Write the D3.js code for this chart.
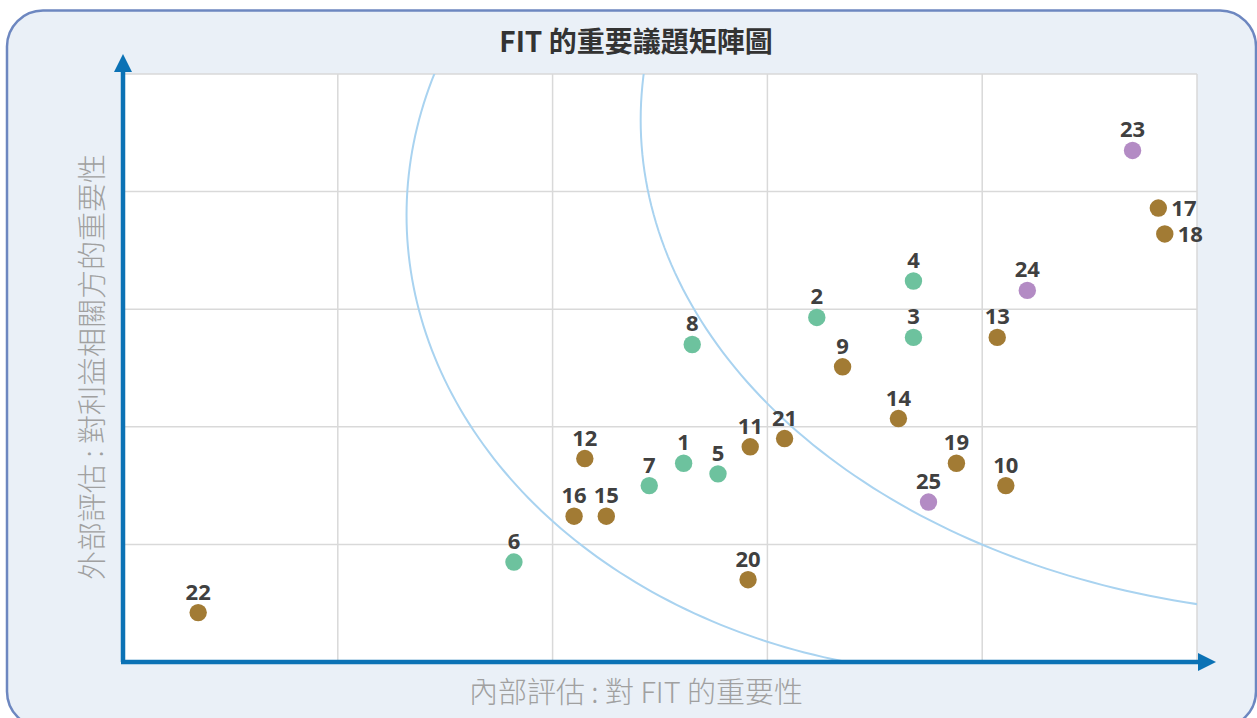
<!DOCTYPE html>
<html>
<head>
<meta charset="utf-8">
<script src="https://cdn.jsdelivr.net/npm/d3@7"></script>
<style>
  html, body { margin: 0; padding: 0; background: #ffffff; }
  svg { display: block; }
  .title { font-family: "Noto Sans CJK TC", "Noto Sans", sans-serif; font-weight: 700; }
  .axis-title { font-family: "Noto Sans CJK TC", "Noto Sans", sans-serif; font-weight: 300; }
  .point-label { font-family: "Noto Sans", "Noto Sans CJK TC", sans-serif; font-weight: 700; }
</style>
</head>
<body>
<div id="chart"></div>
<script>
// issue numbers and their scores (internal / external)
var issueIds = [1, 2, 3, 4, 5, 6, 7, 8, 9, 10, 11, 12, 13, 14, 15, 16, 17, 18, 19, 20, 21, 22, 23, 24, 25];
var internalScore = [2.61, 3.23, 3.68, 3.68, 2.77, 1.82, 2.45, 2.65, 3.35, 4.11, 2.92, 2.15, 4.07, 3.61, 2.25, 2.10, 4.82, 4.85, 3.88, 2.91, 3.08, 0.35, 4.70, 4.21, 3.75];
var externalScore = [1.69, 2.93, 2.76, 3.24, 1.60, 0.85, 1.50, 2.70, 2.51, 1.50, 1.83, 1.73, 2.76, 2.07, 1.24, 1.24, 3.86, 3.64, 1.69, 0.70, 1.90, 0.42, 4.35, 3.16, 1.36];
var issueGroup = ['a', 'a', 'a', 'a', 'a', 'a', 'a', 'a',
                  'b', 'b', 'b', 'b', 'b', 'b', 'b', 'b', 'b', 'b', 'b', 'b', 'b', 'b',
                  'c', 'c', 'c'];
var rightLabels = [17, 18];

var gridTicks = [0, 1, 2, 3, 4, 5];

// the two boundary arcs, left halves of ellipses in score units
var arcCenterX = [4.0, 5.68];
var arcCenterY = [3.8, 4.61];
var arcRadiusX = [2.68, 3.27];
var arcRadiusY = [3.91, 4.21];

var groupColors = { a: '#6dc29e', b: '#a27b34', c: '#b38bc4' };

var width = 1257, height = 718;
var margin = { top: 74, right: 60, bottom: 56, left: 123 };

var svg = d3.select('#chart').append('svg')
  .attr('width', width)
  .attr('height', height);

// frame
svg.append('rect')
  .attr('x', 7).attr('y', 10.5)
  .attr('width', 1249).attr('height', 717)
  .attr('rx', 36).attr('ry', 36)
  .attr('fill', '#eaf0f7')
  .attr('stroke', '#6d87c0')
  .attr('stroke-width', 2.5);

var x = d3.scaleLinear().domain([0, 5]).range([margin.left, width - margin.right]);
var y = d3.scaleLinear().domain([0, 5]).range([height - margin.bottom, margin.top]);

svg.append('rect')
  .attr('x', x(0)).attr('y', y(5))
  .attr('width', x(5) - x(0)).attr('height', y(0) - y(5))
  .attr('fill', '#ffffff');

// grid
var grid = svg.append('g').attr('stroke', '#d9d9d9').attr('stroke-width', 1.5);
grid.selectAll('.vgrid').data(gridTicks.slice(1)).enter().append('line')
  .attr('x1', function(d) { return x(d); })
  .attr('x2', function(d) { return x(d); })
  .attr('y1', y(0)).attr('y2', y(5));
grid.selectAll('.hgrid').data(gridTicks.slice(1)).enter().append('line')
  .attr('x1', x(0)).attr('x2', x(5))
  .attr('y1', function(d) { return y(d); })
  .attr('y2', function(d) { return y(d); });

// arcs
svg.append('clipPath').attr('id', 'plot-clip')
  .append('rect')
  .attr('x', x(0)).attr('y', y(5))
  .attr('width', x(5) - x(0)).attr('height', y(0) - y(5));

var arcLine = d3.line()
  .x(function(d) { return x(d[0]); })
  .y(function(d) { return y(d[1]); });

var arcs = svg.append('g').attr('clip-path', 'url(#plot-clip)');
arcCenterX.forEach(function(cx, i) {
  var pts = d3.range(90, 271).map(function(k) {
    var t = k * Math.PI / 180;
    return [cx + arcRadiusX[i] * Math.cos(t), arcCenterY[i] + arcRadiusY[i] * Math.sin(t)];
  });
  arcs.append('path')
    .attr('d', arcLine(pts))
    .attr('fill', 'none')
    .attr('stroke', '#a9d3f0')
    .attr('stroke-width', 2);
});

// axes with arrows
var defs = svg.append('defs');
defs.append('marker')
  .attr('id', 'arrow')
  .attr('viewBox', '0 0 10 10')
  .attr('refX', 0).attr('refY', 5)
  .attr('markerWidth', 5).attr('markerHeight', 4)
  .attr('markerUnits', 'strokeWidth')
  .attr('orient', 'auto')
  .append('path')
  .attr('d', 'M0,0 L10,5 L0,10 Z')
  .attr('fill', '#0b72b5');

svg.append('path')
  .attr('d', 'M' + x(0) + ',' + y(0) + ' L' + x(0) + ',' + (y(5) - 2))
  .attr('stroke', '#0b72b5').attr('stroke-width', 4.5)
  .attr('marker-end', 'url(#arrow)');
svg.append('path')
  .attr('d', 'M' + (x(0) - 2) + ',' + y(0) + ' L' + (x(5) + 1) + ',' + y(0))
  .attr('stroke', '#0b72b5').attr('stroke-width', 4.5)
  .attr('marker-end', 'url(#arrow)');

// points
var points = issueIds.map(function(id, i) {
  return { id: id, x: internalScore[i], y: externalScore[i], group: issueGroup[i] };
});

svg.append('g').selectAll('circle')
  .data(points)
  .enter()
  .append('circle')
  .attr('cx', function(d) { return x(d.x); })
  .attr('cy', function(d) { return y(d.y); })
  .attr('r', 8.7)
  .attr('fill', function(d) { return groupColors[d.group]; });

svg.append('g').selectAll('text')
  .data(points)
  .enter()
  .append('text')
  .attr('class', 'point-label')
  .attr('x', function(d) {
    return rightLabels.indexOf(d.id) >= 0 ? x(d.x) + 13 : x(d.x);
  })
  .attr('y', function(d) {
    return rightLabels.indexOf(d.id) >= 0 ? y(d.y) + 8 : y(d.y) - 13;
  })
  .attr('text-anchor', function(d) {
    return rightLabels.indexOf(d.id) >= 0 ? 'start' : 'middle';
  })
  .attr('font-size', 22)
  .attr('fill', '#404040')
  .text(function(d) { return d.id; });

// titles
svg.append('text')
  .attr('class', 'title')
  .attr('x', 636).attr('y', 52)
  .attr('text-anchor', 'middle')
  .attr('font-size', 28)
  .attr('fill', '#333333')
  .text('FIT 的重要議題矩陣圖');

svg.append('text')
  .attr('class', 'axis-title')
  .attr('x', 636).attr('y', 703)
  .attr('text-anchor', 'middle')
  .attr('font-size', 29)
  .attr('fill', '#a0a0a0')
  .text('內部評估 : 對 FIT 的重要性');

svg.append('text')
  .attr('class', 'axis-title')
  .attr('transform', 'translate(103,367) rotate(-90)')
  .attr('text-anchor', 'middle')
  .attr('font-size', 29)
  .attr('fill', '#a0a0a0')
  .text('外部評估 : 對利益相關方的重要性');
</script>
</body>
</html>
